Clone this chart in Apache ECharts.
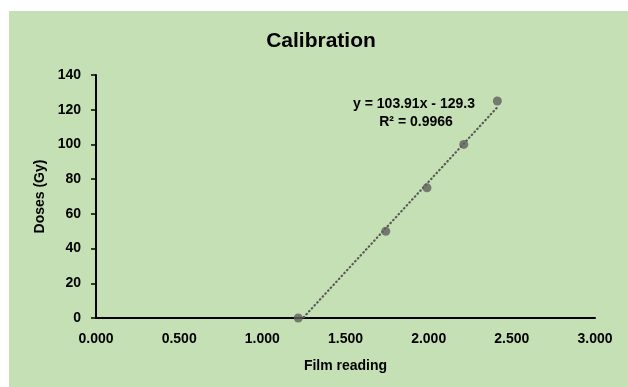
<!DOCTYPE html>
<html>
<head>
<meta charset="utf-8">
<script src="https://cdn.jsdelivr.net/npm/echarts@6/dist/echarts.min.js"></script>
<style>
html,body{margin:0;padding:0;background:#fff;}
#c{width:628px;height:387px;}
</style>
</head>
<body>
<div id="c"></div>
<script>
const filmReading = [1.216, 1.742, 1.990, 2.211, 2.413];
const doses = [0, 50, 75, 100, 125];
const trendSlope = 103.91;
const trendIntercept = -129.3;
const rSquared = 0.9966;
const titleText = 'Calibration';
const xTitle = 'Film reading';
const yTitle = 'Doses (Gy)';

const FONT = '"Liberation Sans", Arial, sans-serif';
const points = filmReading.map((x, i) => [x, doses[i]]);
const xMin = Math.min(...filmReading), xMax = Math.max(...filmReading);
const trend = [[xMin, trendSlope * xMin + trendIntercept], [xMax, trendSlope * xMax + trendIntercept]];

const chart = echarts.init(document.getElementById('c'), null, {renderer: 'canvas'});
chart.setOption({
  backgroundColor: '#ffffff',
  animation: false,
  graphic: [
    {type: 'rect', z: -10, silent: true, shape: {x: 9, y: 11, width: 619, height: 376}, style: {fill: '#C5E0B4'}},
    {type: 'text', z: 10, style: {text: titleText, x: 321, y: 41, align: 'center', verticalAlign: 'middle', font: 'bold 21px ' + FONT, fill: '#000'}},
    {type: 'text', z: 10, style: {text: 'y = ' + trendSlope + 'x - ' + Math.abs(trendIntercept), x: 414, y: 104, align: 'center', verticalAlign: 'middle', font: 'bold 14px ' + FONT, fill: '#000'}},
    {type: 'text', z: 10, style: {text: 'R² = ' + rSquared, x: 416, y: 122, align: 'center', verticalAlign: 'middle', font: 'bold 14px ' + FONT, fill: '#000'}}
  ],
  grid: {left: 96, right: 33, top: 75, bottom: 69, containLabel: false},
  xAxis: {
    type: 'value', min: 0, max: 3, interval: 0.5,
    name: xTitle, nameLocation: 'middle', nameGap: 41,
    nameTextStyle: {fontFamily: FONT, fontWeight: 'bold', fontSize: 14, color: '#000'},
    axisLine: {show: true, onZero: false, lineStyle: {color: '#000', width: 2}},
    axisTick: {show: false},
    splitLine: {show: false},
    axisLabel: {margin: 14, fontFamily: FONT, fontWeight: 'bold', fontSize: 14, color: '#000',
      formatter: v => v.toFixed(3)}
  },
  yAxis: {
    type: 'value', min: 0, max: 140, interval: 20,
    name: yTitle, nameLocation: 'middle', nameGap: 47, nameRotate: 90,
    nameTextStyle: {fontFamily: FONT, fontWeight: 'bold', fontSize: 14, color: '#000'},
    axisLine: {show: true, lineStyle: {color: '#000', width: 2}},
    axisTick: {show: true, inside: false, length: 5, lineStyle: {color: '#000', width: 1.5}},
    splitLine: {show: false},
    axisLabel: {margin: 15, fontFamily: FONT, fontWeight: 'bold', fontSize: 14, color: '#000'}
  },
  series: [
    {
      type: 'line', data: trend, showSymbol: false, symbol: 'none', clip: true, z: 2,
      lineStyle: {color: '#595959', width: 2.2, type: [0.5, 3.5], cap: 'round'}
    },
    {
      type: 'scatter', data: points, symbol: 'circle', symbolSize: 9, z: 3, clip: false,
      itemStyle: {color: '#5f5f5f'}
    }
  ]
});
</script>
</body>
</html>
